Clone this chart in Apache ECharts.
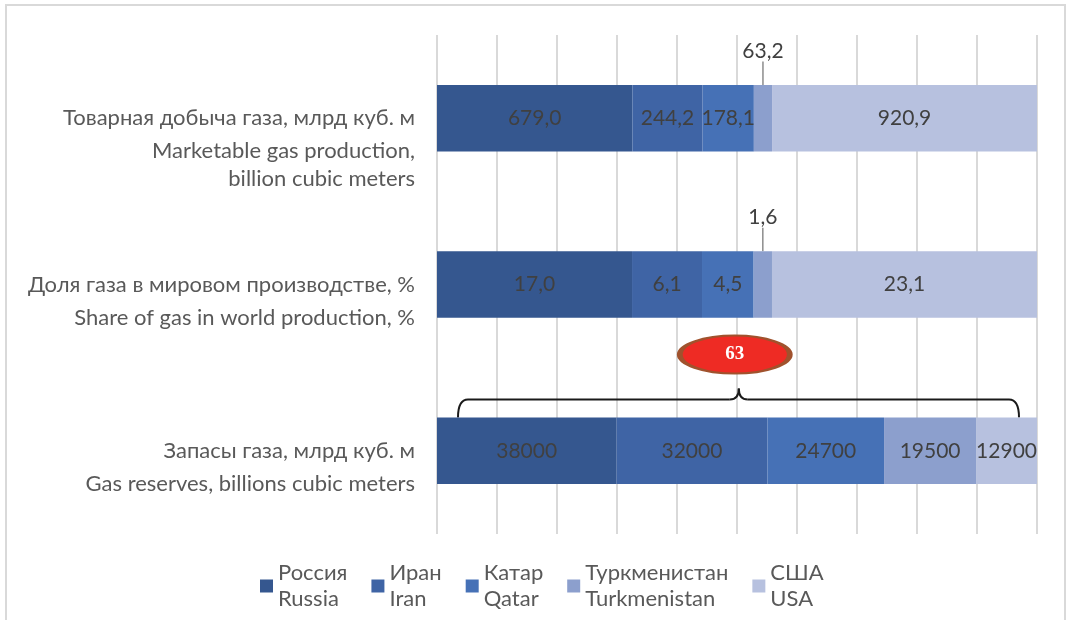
<!DOCTYPE html>
<html>
<head>
<meta charset="utf-8">
<script src="https://cdn.jsdelivr.net/npm/echarts@6/dist/echarts.min.js"></script>
<style>
html,body{margin:0;padding:0;background:#fff;}
#chart{width:1067px;height:620px;}
</style>
</head>
<body>
<div id="chart"></div>
<script>
// ---- data ----
var categoriesRu = ['Товарная добыча газа, млрд куб. м', 'Доля газа в мировом производстве, %', 'Запасы газа, млрд куб. м'];
var categoriesEn = ['Marketable gas production,\nbillion cubic meters', 'Share of gas in world production, %', 'Gas reserves, billions cubic meters'];
var seriesNames = ['Россия\nRussia', 'Иран\nIran', 'Катар\nQatar', 'Туркменистан\nTurkmenistan', 'США\nUSA'];
var russia = [679.0, 17.0, 38000];
var iran = [244.2, 6.1, 32000];
var qatar = [178.1, 4.5, 24700];
var turkmenistan = [63.2, 1.6, 19500];
var usa = [920.9, 23.1, 12900];
var decimals = [1, 1, 0];
var bracketLabel = '63';

var colors = ['#35578F', '#3F64A5', '#4671B6', '#8C9FCD', '#B7C1DF'];
var FONT = 'Lato';
var allSeries = [russia, iran, qatar, turkmenistan, usa];
var totals = categoriesRu.map(function (_, i) {
  return allSeries.reduce(function (s, arr) { return s + arr[i]; }, 0);
});
function fmt(v, i) {
  return v.toFixed(decimals[i]).replace('.', ',');
}

var chart = echarts.init(document.getElementById('chart'));

var series = allSeries.map(function (arr, si) {
  var isTk = si === 3;
  return {
    name: seriesNames[si],
    type: 'bar',
    stack: 'total',
    barWidth: '40%',
    yAxisIndex: 0,
    itemStyle: { color: colors[si] },
    emphasis: { disabled: true },
    label: {
      show: true,
      position: 'inside',
      color: '#404040',
      fontFamily: FONT,
      fontSize: 21,
      formatter: function (p) { return fmt(arr[p.dataIndex], p.dataIndex); }
    },
    labelLine: isTk ? { show: true, lineStyle: { color: '#8c8c8c', width: 1.5 } } : undefined,
    labelLayout: isTk ? function (p) {
      if (p.dataIndex < 2) {
        return { dy: -(p.rect.height / 2 + 34) };
      }
      return {};
    } : undefined,
    data: arr.map(function (v, i) { return v / totals[i]; })
  };
});

var option = {
  animation: false,
  color: colors,
  grid: { left: 437, right: 30, top: 35, bottom: 86, containLabel: false },
  legend: {
    left: 255,
    top: 555,
    itemWidth: 13,
    itemHeight: 13,
    itemGap: 24,
    icon: 'rect',
    textStyle: { fontFamily: FONT, fontSize: 22, color: '#595959', lineHeight: 26 },
    data: seriesNames
  },
  xAxis: {
    type: 'value',
    min: 0,
    max: 1,
    interval: 0.1,
    axisLabel: { show: false },
    axisLine: { show: false },
    axisTick: { show: false },
    splitLine: { show: true, lineStyle: { color: '#D9D9D9', width: 2 } }
  },
  yAxis: [{
    type: 'category',
    inverse: true,
    data: categoriesRu,
    axisLine: { show: false },
    axisTick: { show: false },
    axisLabel: { fontFamily: FONT, fontSize: 22, color: '#595959', margin: 22, align: 'right' }
  }, {
    type: 'category',
    inverse: true,
    position: 'left',
    data: categoriesEn,
    axisLine: { show: false },
    axisTick: { show: false },
    axisLabel: { fontFamily: FONT, fontSize: 22, color: '#595959', margin: 22, align: 'right',
      verticalAlign: 'top', lineHeight: 28, padding: [19, 0, 0, 0] }
  }],
  series: series
};
chart.setOption(option);

// annotation: brace + ellipse over reserves bar
var yc = chart.convertToPixel({ yAxisIndex: 0 }, categoriesRu[2]);
var yc0 = chart.convertToPixel({ yAxisIndex: 0 }, categoriesRu[1]);
var band = yc - yc0;
var barTop = yc - band * 0.4 / 2;
var xL = chart.convertToPixel({ xAxisIndex: 0 }, 0.035);
var xR = chart.convertToPixel({ xAxisIndex: 0 }, 0.97);
var xM = chart.convertToPixel({ xAxisIndex: 0 }, 0.503);
var by = barTop - 18;
var braceStyle = { fill: 'none', stroke: '#1a1a1a', lineWidth: 2 };
function curve(x1, y1, cx, cy, x2, y2) {
  return { type: 'bezierCurve', silent: true, shape: { x1: x1, y1: y1, x2: x2, y2: y2, cpx1: cx, cpy1: cy }, style: braceStyle };
}
function seg(x1, y1, x2, y2) {
  return { type: 'line', silent: true, shape: { x1: x1, y1: y1, x2: x2, y2: y2 }, style: braceStyle };
}
var ellRx = 55, ellRy = 19;
chart.setOption({
  graphic: [
    { type: 'rect', silent: true, shape: { x: 6, y: 5, width: 1059, height: 640 },
      style: { fill: 'none', stroke: '#D9D9D9', lineWidth: 2 } },
    curve(xL, barTop, xL, by, xL + 10, by),
    seg(xL + 10, by, xM - 9, by),
    curve(xM - 9, by, xM, by, xM, by - 11),
    curve(xM, by - 11, xM, by, xM + 9, by),
    seg(xM + 9, by, xR - 10, by),
    curve(xR - 10, by, xR, by, xR, barTop),
    { type: 'circle', silent: true, x: xM - 4, y: barTop - 63, scaleX: ellRx / ellRy,
      shape: { cx: 0, cy: 0, r: ellRy },
      style: { fill: '#EE2B24', stroke: '#A0522D', lineWidth: 2, strokeNoScale: true } },
    { type: 'text', silent: true, x: xM - 4, y: barTop - 63,
      style: { text: bracketLabel, fill: '#fff', font: 'bold 19px "Liberation Serif", "Times New Roman", serif',
        align: 'center', verticalAlign: 'middle' } }
  ]
});
</script>
</body>
</html>
